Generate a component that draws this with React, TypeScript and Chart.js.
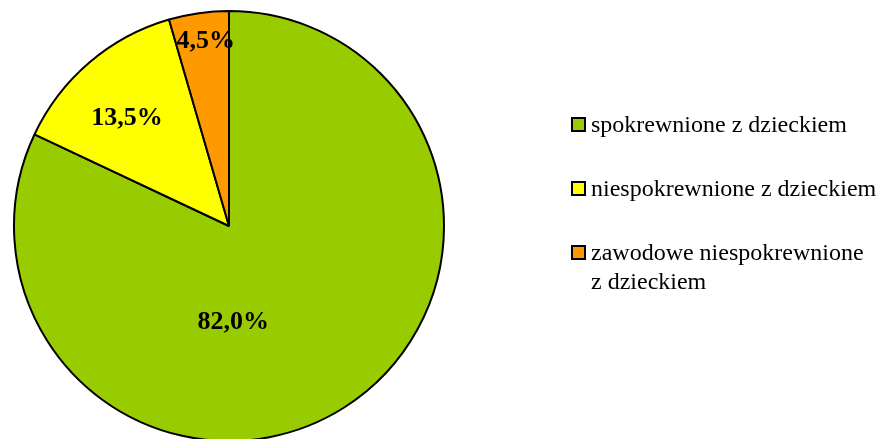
import React, { useEffect, useRef } from "react";
import { Chart, registerables } from "chart.js";

Chart.register(...registerables);

const categories: string[][] = [
  ["spokrewnione z dzieckiem"],
  ["niespokrewnione z dzieckiem"],
  ["zawodowe niespokrewnione", "z dzieckiem"],
];
const values: number[] = [82.0, 13.5, 4.5];
const valueLabels: string[] = ["82,0%", "13,5%", "4,5%"];
const colors: string[] = ["#99CC00", "#FFFF00", "#FF9900"];

// label placement (polar, relative to pie centre): angle in degrees clockwise from top, radius fraction
const labelPlacement = [
  { angle: 177.5, r: 0.45 },
  { angle: 316.5, r: 0.69 },
  { angle: 352.8, r: 0.865 },
];

const FONT = "'Liberation Serif', 'Times New Roman', serif";

const overlayPlugin = {
  id: "overlay",
  afterDatasetsDraw(chart: any) {
    const ctx = chart.ctx as CanvasRenderingContext2D;
    const meta = chart.getDatasetMeta(0);
    const arc0 = meta.data[0] as any;
    const cx = arc0.x;
    const cy = arc0.y;
    const R = arc0.outerRadius;
    ctx.save();
    ctx.fillStyle = "#000";
    ctx.font = `bold 26px ${FONT}`;
    ctx.textAlign = "center";
    ctx.textBaseline = "middle";
    valueLabels.forEach((t, i) => {
      const p = labelPlacement[i];
      const a = (p.angle * Math.PI) / 180;
      const x = cx + Math.sin(a) * p.r * R;
      const y = cy - Math.cos(a) * p.r * R;
      ctx.fillText(t, x, y);
    });

    // legend
    const lx = 572;
    const startY = 118;
    const step = 64;
    const box = 13;
    ctx.font = `24px ${FONT}`;
    ctx.textAlign = "left";
    ctx.textBaseline = "alphabetic";
    categories.forEach((lines, i) => {
      const y = startY + i * step;
      ctx.fillStyle = colors[i];
      ctx.fillRect(lx, y, box, box);
      ctx.lineWidth = 2;
      ctx.strokeStyle = "#000";
      ctx.strokeRect(lx, y, box, box);
      ctx.fillStyle = "#000";
      lines.forEach((ln, j) => {
        ctx.fillText(ln, lx + 19, y + 14 + j * 29);
      });
    });
    ctx.restore();
  },
};

export default function App() {
  const ref = useRef<HTMLCanvasElement>(null);
  useEffect(() => {
    if (!ref.current) return;
    const chart = new Chart(ref.current, {
      type: "pie",
      data: {
        labels: categories.map((c) => c.join(" ")),
        datasets: [
          {
            data: values,
            backgroundColor: colors,
            borderColor: "#000",
            borderWidth: 2,
            hoverOffset: 0,
            radius: 215,
          } as any,
        ],
      },
      options: {
        animation: false,
        responsive: false,
        maintainAspectRatio: false,
        layout: { padding: { left: 14, right: 440, top: 11, bottom: 4 } },
        plugins: {
          legend: { display: false },
          tooltip: { enabled: false },
        },
      },
      plugins: [overlayPlugin],
    });
    return () => chart.destroy();
  }, []);
  return (
    <div style={{ position: "absolute", left: 0, top: 0, width: 884, height: 439, overflow: "hidden", background: "#fff" }}>
      <canvas ref={ref} width={884} height={445} style={{ display: "block" }} />
    </div>
  );
}
